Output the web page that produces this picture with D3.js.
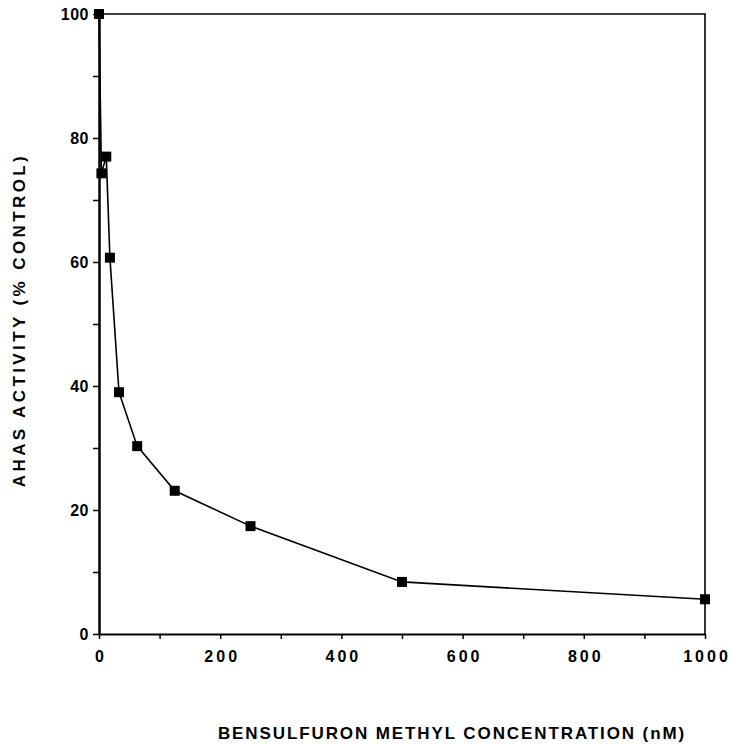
<!DOCTYPE html>
<html>
<head>
	<script src="https://cdn.jsdelivr.net/npm/d3@7"></script>
	<style>
		html, body {
			padding: 0;
			margin: 0;
			background: #fff;
		}
		text {
			font-family: "Liberation Sans", Arial, sans-serif;
			font-weight: bold;
			fill: #000;
		}
	</style>
</head>
<body>
	<script>
		// data
		var concentration = [0, 4, 12, 18, 33, 63, 125, 250, 500, 1000];
		var activity      = [100, 74.3, 77, 60.7, 39, 30.3, 23.1, 17.4, 8.4, 5.6];
		var xTicks = [0, 100, 200, 300, 400, 500, 600, 700, 800, 900, 1000];
		var yTicks = [0, 10, 20, 30, 40, 50, 60, 70, 80, 90, 100];
		var xTitle = "BENSULFURON METHYL CONCENTRATION (nM)";
		var yTitle = "AHAS ACTIVITY (% CONTROL)";

		var width = 731, height = 744;

		var svg = d3.select('body').append('svg')
			.attr('width', width)
			.attr('height', height);

		var x = d3.scaleLinear().domain([0, 1000]).range([99, 705]);
		var y = d3.scaleLinear().domain([0, 100]).range([634, 14]);

		/* frame: top and right borders */
		svg.append('path')
			.attr('d', 'M' + x(0) + ',' + y(100) + 'H' + x(1000) + 'V' + y(0))
			.attr('fill', 'none')
			.attr('stroke', '#000')
			.attr('stroke-width', 1.6);

		/* x axis */
		var xAxis = svg.append('g')
			.attr('transform', 'translate(0,' + y(0) + ')')
			.call(d3.axisBottom(x)
				.tickValues(xTicks)
				.tickSize(5)
				.tickSizeOuter(0)
				.tickPadding(12)
				.tickFormat(function(d) { return d % 200 == 0 ? d : ''; }));
		xAxis.select('.domain').attr('stroke-width', 2);
		xAxis.selectAll('.tick line').attr('stroke-width', 1.5);
		xAxis.selectAll('.tick text')
			.style('font-size', '16px')
			.style('letter-spacing', '3px')
			.attr('dx', '1.5px');

		/* y axis */
		var yAxis = svg.append('g')
			.attr('transform', 'translate(' + x(0) + ',0)')
			.call(d3.axisLeft(y)
				.tickValues(yTicks)
				.tickSize(6)
				.tickSizeOuter(0)
				.tickPadding(4)
				.tickFormat(function(d) { return d % 20 == 0 ? d : ''; }));
		yAxis.select('.domain').attr('stroke-width', 2.5);
		yAxis.selectAll('.tick line').attr('stroke-width', 1.5);
		yAxis.selectAll('.tick text')
			.style('font-size', '16px')
			.style('letter-spacing', '0.5px');

		/* curve */
		var pts = concentration.map(function(c, i) { return [c, activity[i]]; });

		var line = d3.line()
			.x(function(d) { return x(d[0]); })
			.y(function(d) { return y(d[1]); });

		svg.append('path')
			.datum(pts)
			.attr('d', line)
			.attr('fill', 'none')
			.attr('stroke', '#000')
			.attr('stroke-width', 1.6);

		var size = 10;
		svg.selectAll('rect.pt')
			.data(pts)
			.enter().append('rect')
			.attr('class', 'pt')
			.attr('x', function(d) { return x(d[0]) - size / 2; })
			.attr('y', function(d) { return y(d[1]) - size / 2; })
			.attr('width', size)
			.attr('height', size)
			.attr('fill', '#000');

		/* titles */
		svg.append('text')
			.attr('x', 452)
			.attr('y', 739)
			.attr('text-anchor', 'middle')
			.style('font-size', '17px')
			.style('letter-spacing', '1.9px')
			.text(xTitle);

		svg.append('text')
			.attr('transform', 'translate(25,320) rotate(-90)')
			.attr('text-anchor', 'middle')
			.style('font-size', '17px')
			.style('letter-spacing', '3.4px')
			.text(yTitle);
	</script>
</body>
</html>
